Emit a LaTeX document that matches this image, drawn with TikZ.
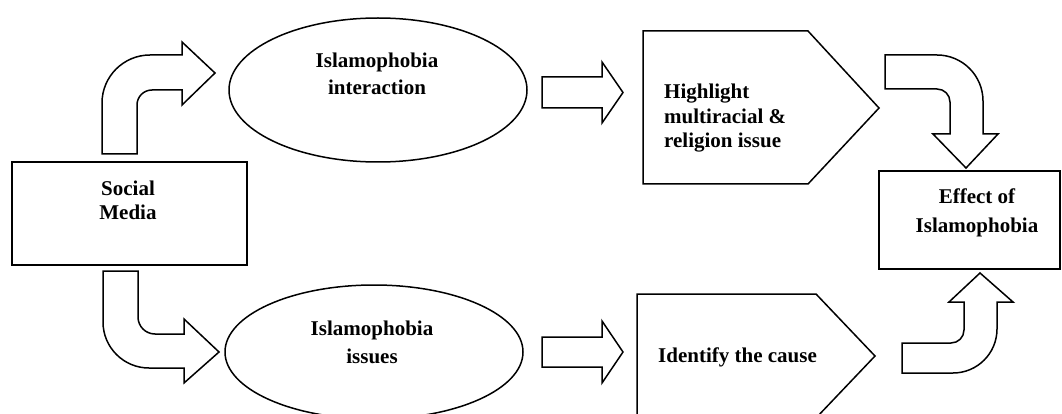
\documentclass[tikz,border=0pt]{standalone}
\usepackage{fontspec}
\setmainfont{Liberation Serif}
\usetikzlibrary{shapes.geometric}
\begin{document}
\begin{tikzpicture}[x=1pt,y=-1pt,
  shape line/.style={draw=black,line width=1.5pt,fill=white,line join=miter},
  blockarrow/.style={draw=black,line width=1.5pt,fill=white,line join=miter},
  txt/.style={inner sep=0pt,font=\bfseries\fontsize{21}{#1}\selectfont},
  txt/.default=26.5]
\useasboundingbox (0,0) rectangle (1062,414);
% boxes
\node[shape line,rectangle,minimum width=235pt,minimum height=103pt,inner sep=0pt] (social) at (129.5,213.5) {};
\node[shape line,rectangle,minimum width=181pt,minimum height=98pt,inner sep=0pt] (effect) at (969.5,220) {};
% ellipses
\node[shape line,ellipse,minimum width=298pt,minimum height=144pt,inner sep=0pt] (e1) at (378,90) {};
\node[shape line,ellipse,minimum width=298pt,minimum height=134pt,inner sep=0pt] (e2) at (374,352) {};
% pentagons
\draw[shape line] (643,31) -- (808,31) -- (879,108) -- (808,184) -- (643,184) -- cycle;
\draw[shape line] (637,294) -- (816,294) -- (875,356) -- (816,418) -- (637,418) -- cycle;
% block arrows
\draw[blockarrow] (102,154) -- (102,103) .. controls (102,76.5) and (123.5,55) .. (150,55)
  -- (182,55) -- (182,42) -- (215,73) -- (182,105) -- (182,90) -- (152,90)
  .. controls (143.7,90) and (137,96.7) .. (137,105) -- (137,154) -- cycle;
\draw[blockarrow] (103,271) -- (103,322) .. controls (103,347.4) and (123.6,368) .. (149,368)
  -- (184,368) -- (184,383) -- (219,352) -- (184,319) -- (184,334) -- (155,334)
  .. controls (145.6,334) and (138,326.4) .. (138,317) -- (138,271) -- cycle;
\draw[blockarrow] (542,77) -- (602,77) -- (602,62) -- (623,92.5) -- (602,123) -- (602,108) -- (542,108) -- cycle;
\draw[blockarrow] (542,337) -- (602,337) -- (602,321) -- (623,352) -- (602,383) -- (602,367) -- (542,367) -- cycle;
\draw[blockarrow] (885,55) -- (937,55) .. controls (962.4,55) and (983,75.6) .. (983,101)
  -- (983,134) -- (998,134) -- (966,168) -- (933,134) -- (950,134) -- (950,102)
  .. controls (950,94.8) and (944.2,89) .. (937,89) -- (885,89) -- cycle;
\draw[blockarrow] (902,373) -- (953,373) .. controls (977.3,373) and (997,353.3) .. (997,329)
  -- (997,302) -- (1013,302) -- (980,273) -- (949,302) -- (964,302) -- (964,330)
  .. controls (964,337.2) and (958.2,343) .. (951,343) -- (902,343) -- cycle;
% texts
\node[txt=24,align=center] (socialtext) at (128,200) {Social\\Media};
\node[txt=27,align=center] (e1text) at (377,73.4) {Islamophobia\\interaction};
\node[txt=28,align=center] (e2text) at (372,342) {Islamophobia\\issues};
\node[txt=24.5,align=left,anchor=west] (p1text) at (664,118.5) {Highlight\\multiracial \&\\religion issue};
\node[txt,anchor=west] (p2text) at (658,357) {Identify the cause};
\node[txt=29,align=center] (effecttext) at (977,212.4) {Effect of\\Islamophobia};
\end{tikzpicture}
\end{document}
